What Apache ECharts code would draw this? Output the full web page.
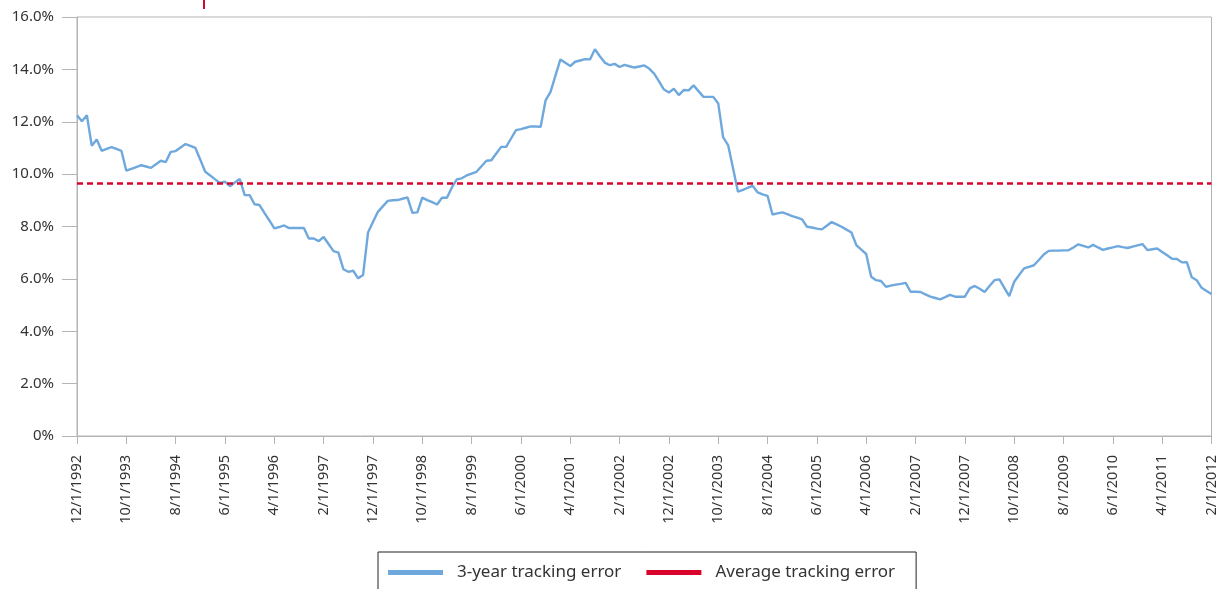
<!DOCTYPE html>
<html>
<head>
<meta charset="utf-8">
<script src="https://cdn.jsdelivr.net/npm/echarts@6/dist/echarts.min.js"></script>
<style>
html,body{margin:0;padding:0;background:#fff;}
#chart{width:1219px;height:589px;}
</style>
</head>
<body>
<div id="chart"></div>
<script>
// Monthly series starting 12/1/1992, ending 2/1/2012 (231 months)
const startYear = 1992, startMonth = 12, monthCount = 231;
const trackingError = [
12.25,12.02,12.25,11.08,11.32,10.89,10.96,11.03,10.96,10.89,
10.13,10.20,10.27,10.34,10.29,10.24,10.38,10.51,10.46,10.85,
10.88,11.02,11.15,11.08,11.00,10.55,10.09,9.95,9.80,9.66,
9.71,9.54,9.68,9.81,9.20,9.20,8.85,8.82,8.52,8.23,
7.93,7.98,8.04,7.94,7.94,7.94,7.94,7.54,7.54,7.44,
7.60,7.33,7.06,7.00,6.37,6.27,6.31,6.02,6.15,7.77,
8.17,8.56,8.77,8.98,9.00,9.01,9.06,9.11,8.52,8.54,
9.10,9.01,8.93,8.84,9.10,9.10,9.49,9.80,9.84,9.95,
10.02,10.09,10.30,10.51,10.53,10.79,11.04,11.04,11.36,11.68,
11.72,11.77,11.82,11.82,11.81,12.82,13.14,13.76,14.38,14.25,
14.13,14.29,14.34,14.39,14.38,14.77,14.50,14.26,14.16,14.21,
14.09,14.17,14.12,14.07,14.11,14.15,14.03,13.84,13.54,13.23,
13.12,13.26,13.02,13.21,13.20,13.39,13.17,12.95,12.95,12.95,
12.70,11.40,11.11,10.22,9.33,9.40,9.48,9.55,9.30,9.23,
9.17,8.46,8.50,8.54,8.47,8.40,8.34,8.27,7.99,7.96,
7.92,7.89,8.03,8.17,8.08,7.99,7.88,7.77,7.29,7.12,
6.95,6.08,5.95,5.92,5.70,5.74,5.78,5.81,5.85,5.51,
5.51,5.50,5.41,5.32,5.27,5.22,5.30,5.39,5.32,5.32,
5.32,5.64,5.73,5.62,5.50,5.73,5.95,5.98,5.66,5.34,
5.89,6.15,6.40,6.46,6.52,6.72,6.93,7.07,7.08,7.08,
7.09,7.09,7.20,7.32,7.26,7.20,7.30,7.20,7.11,7.16,
7.20,7.25,7.21,7.18,7.23,7.28,7.33,7.10,7.13,7.16,
7.03,6.90,6.77,6.76,6.63,6.64,6.06,5.95,5.66,5.54,
5.42
];
const averageTrackingError = 9.67;
const yTicks = [0, 2, 4, 6, 8, 10, 12, 14, 16];
const seriesNames = ['3-year tracking error', 'Average tracking error'];

const categories = [];
for (let i = 0; i < monthCount; i++) {
  const t = (startMonth - 1) + i;
  const y = startYear + Math.floor(t / 12);
  const m = (t % 12) + 1;
  categories.push(m + '/1/' + y);
}

const FONT = '"Noto Sans", "Open Sans", sans-serif';
const chart = echarts.init(document.getElementById('chart'), null, {renderer: 'canvas'});
chart.setOption({
  animation: false,
  backgroundColor: '#fff',
  grid: {
    left: 77, right: 5, top: 17, bottom: 153,
    show: true, borderColor: '#b4b4b4', borderWidth: 1, backgroundColor: 'transparent'
  },
  graphic: [{
    type: 'rect', left: 203, top: 0,
    shape: {width: 2, height: 9},
    style: {fill: '#d9042b'}
  }],
  legend: {
    left: 378, top: 552,
    padding: [12, 21, 30, 10],
    borderColor: '#222', borderWidth: 1,
    itemWidth: 55, itemHeight: 5, itemGap: 25,
    icon: 'rect',
    textStyle: {fontFamily: FONT, fontSize: 17, color: '#333', padding: [0, 0, 0, 9]},
    data: seriesNames
  },
  xAxis: {
    type: 'category',
    data: categories,
    boundaryGap: false,
    axisLine: {lineStyle: {color: '#b4b4b4', width: 1}},
    axisTick: {show: true, interval: 9, length: 8, lineStyle: {color: '#b4b4b4'}},
    axisLabel: {
      interval: 9, rotate: 90, margin: 19,
      fontFamily: FONT, fontSize: 14.5, color: '#333'
    },
    splitLine: {show: false}
  },
  yAxis: {
    type: 'value',
    min: yTicks[0], max: yTicks[yTicks.length - 1], interval: 2,
    axisLine: {show: true, lineStyle: {color: '#b4b4b4', width: 1}},
    axisTick: {show: true, length: 15, lineStyle: {color: '#b4b4b4'}},
    axisLabel: {
      margin: 23, fontFamily: FONT, fontSize: 15, color: '#333',
      formatter: v => v === 0 ? '0%' : v.toFixed(1) + '%'
    },
    splitLine: {show: false}
  },
  series: [
    {
      name: seriesNames[0],
      type: 'line',
      data: trackingError,
      symbol: 'none',
      lineStyle: {color: '#6fa8dc', width: 2.4},
      itemStyle: {color: '#6fa8dc'}
    },
    {
      name: seriesNames[1],
      type: 'line',
      data: [],
      symbol: 'none',
      lineStyle: {color: '#d9042b', width: 2},
      itemStyle: {color: '#d9042b'},
      markLine: {
        silent: true, symbol: 'none',
        label: {show: false},
        lineStyle: {color: '#d9042b', width: 2.5, type: [6, 4]},
        data: [{yAxis: averageTrackingError}]
      }
    }
  ]
});
</script>
</body>
</html>
